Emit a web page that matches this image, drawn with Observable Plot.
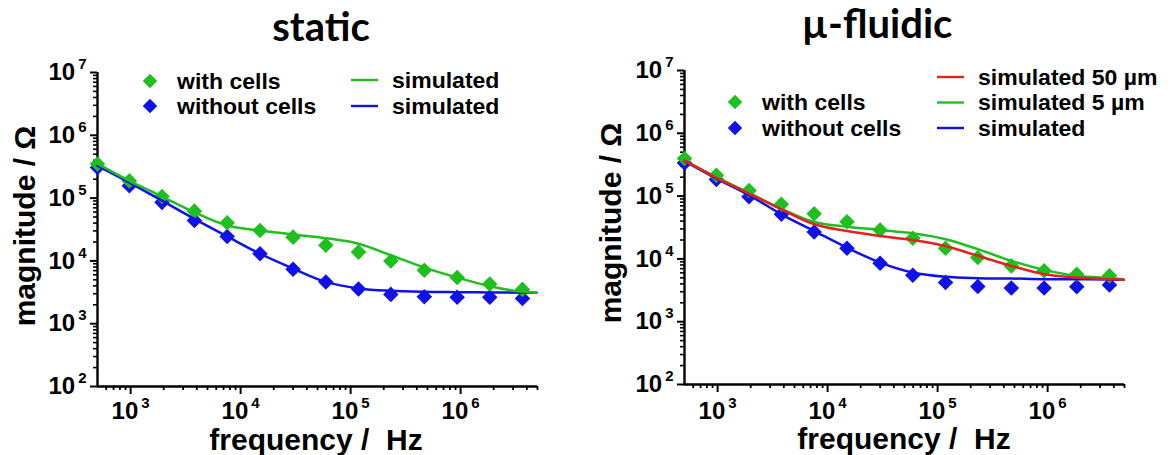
<!DOCTYPE html>
<html><head><meta charset="utf-8">
<script src="https://cdn.jsdelivr.net/npm/d3@7"></script>
<script src="https://cdn.jsdelivr.net/npm/@observablehq/plot@0.6"></script>
<style>
body{margin:0;background:#fff;}
#wrap{position:relative;width:1171px;height:455px;overflow:hidden;}
.panel{position:absolute;top:0;width:585px;height:455px;}
svg text{white-space:pre;}
</style></head><body>
<div id="wrap"><div id="p1" class="panel" style="left:0"></div><div id="p2" class="panel" style="left:586px"></div></div>
<script>
// ---- data ----
const freq = [500, 975, 1930, 3800, 7550, 15000, 30000, 59500, 118000, 232000, 468000, 930000, 1840000, 3650000];
const simFreq = [500, 975, 1930, 3800, 7550, 15000, 30000, 59500, 118000, 232000, 468000, 930000, 1840000, 3650000, 4900000];

// static panel
const staticWithCells    = [350000, 188000, 106000, 62000, 40400, 30500, 23900, 17700, 13800, 9960, 7100, 5440, 4270, 3520];
const staticWithoutCells = [306000, 157000, 85500, 43900, 24500, 13000, 7360, 4630, 3560, 2930, 2680, 2630, 2630, 2530];
const staticSimWith      = [354000, 188000, 106000, 59400, 36600, 30500, 26400, 23000, 18800, 12300, 7830, 5440, 3960, 3220, 3100];
const staticSimWithout   = [326000, 177000, 91000, 46700, 24500, 13000, 7550, 4630, 3650, 3340, 3220, 3180, 3150, 3120, 3100];

// µ-fluidic panel
const fluidicWithCells    = [397000, 215000, 123000, 73900, 52400, 39100, 28900, 21300, 14800, 10500, 7740, 6450, 5710, 5370];
const fluidicWithoutCells = [338000, 184000, 97500, 51300, 26800, 14800, 8550, 5510, 4210, 3630, 3430, 3430, 3600, 3830];
const fluidicSim50   = [370000, 195000, 110000, 61500, 35600, 27800, 23200, 20000, 16100, 11200, 7740, 5710, 5050, 4760, 4640];
const fluidicSim5    = [370000, 200000, 113000, 62900, 38700, 32600, 28900, 25600, 20600, 14300, 9300, 6690, 5370, 4940, 4760];
const fluidicSimNo   = [360000, 190000, 104000, 51300, 27800, 15100, 8740, 6070, 5180, 4940, 4870, 4760, 4760, 4710, 4640];

const xDomain = [500, 5000000];
const yDomain = [100, 10000000];
const xMajor = [1e3, 1e4, 1e5, 1e6];
const yMajor = [1e2, 1e3, 1e4, 1e5, 1e6, 1e7];

const GREEN = "#1fbf1f", BLUE = "#1010e8", RED = "#e3221c";
const FONT = "'Liberation Sans', Arial, sans-serif";

function minor(domain) {
  const out = [];
  for (let e = Math.floor(Math.log10(domain[0])); e < Math.log10(domain[1]); e++)
    for (let m = 2; m < 10; m++) { const v = m * 10 ** e; if (v > domain[0] && v <= domain[1]) out.push(v); }
  return out;
}
const rows = (fs, vs, s) => vs.map((v, i) => ({f: fs[i], v, s}));
const expFmt = d => String(Math.round(Math.log10(d)));

function stretch(node, k) {
  const len = node.getComputedTextLength();
  node.setAttribute("textLength", (len * k).toFixed(1));
  node.setAttribute("lengthAdjust", "spacingAndGlyphs");
}

function panel(el, cfg) {
  const chart = Plot.plot({
    width: 585, height: 455,
    marginLeft: cfg.ml, marginRight: cfg.mr, marginTop: cfg.mt, marginBottom: cfg.mb,
    style: {fontFamily: FONT, fontWeight: "bold", color: "#000", background: "transparent", overflow: "visible"},
    x: {type: "log", domain: xDomain},
    y: {type: "log", domain: yDomain},
    marks: [
      Plot.axisX(minor(xDomain), {tickSize: 4, strokeWidth: 1.8, tickFormat: () => "", label: null}),
      Plot.axisX(xMajor, {tickSize: 8, strokeWidth: 2, tickPadding: cfg.xPad, fontSize: 24, tickFormat: expFmt, label: null}),
      Plot.axisY(minor(yDomain), {tickSize: 4, strokeWidth: 1.6, tickFormat: () => "", label: null}),
      Plot.axisY(yMajor, {tickSize: 7, strokeWidth: 2, tickPadding: 4, fontSize: 24, tickFormat: expFmt, label: null}),
      Plot.ruleX([xDomain[0]], {stroke: "#000", strokeWidth: 2.4}),
      Plot.ruleY([yDomain[0]], {stroke: "#000", strokeWidth: 2.4}),
      ...cfg.dots.map(d => Plot.dot(rows(freq, d.values, d.name), {x: "f", y: "v", symbol: "diamond2", r: 7, fill: d.color, stroke: null})),
      ...cfg.lines.map(l => Plot.line(rows(simFreq, l.values, l.name), {x: "f", y: "v", stroke: l.color, strokeWidth: 2.5, curve: "catmull-rom"}))
    ]
  });
  el.appendChild(chart);
  const svg = d3.select(chart);
  // superscript exponents on tick labels
  svg.selectAll('g[aria-label="x-axis tick label"] text, g[aria-label="y-axis tick label"] text').each(function () {
    const t = this.textContent;
    if (!t) return;
    const s = d3.select(this);
    s.text(null);
    s.append("tspan").text("10");
    s.append("tspan").attr("dx", 3).attr("dy", -11).attr("font-size", 15).text(t);
  });
  // axis titles
  svg.append("text").attr("x", cfg.xLabel.x).attr("y", cfg.xLabel.y).attr("text-anchor", "middle")
    .attr("font-family", FONT).attr("font-weight", "bold").attr("font-size", 30).attr("fill", "#000")
    .text("frequency /  Hz");
  svg.append("text").attr("transform", `translate(${cfg.yLabel.x},${cfg.yLabel.y}) rotate(-90)`).attr("text-anchor", "middle")
    .attr("font-family", FONT).attr("font-weight", "bold").attr("font-size", 30).attr("fill", "#000")
    .text("magnitude / Ω");
  // title
  svg.append("text").attr("x", cfg.title.x).attr("y", cfg.title.y).attr("text-anchor", "middle")
    .attr("font-family", "Lato, 'Open Sans', sans-serif").attr("font-weight", 700).attr("font-size", 40)
    .attr("fill", "#000").text(cfg.title.text);
  // legend
  const lg = svg.append("g").attr("font-family", FONT).attr("font-weight", "bold").attr("font-size", 21.5)
    .attr("fill", "#000").attr("text-anchor", "start");
  cfg.legendDots.forEach(d => {
    lg.append("path").attr("transform", `translate(${d.x},${d.y})`)
      .attr("d", d3.symbol(d3.symbolDiamond2, Math.PI * 6.5 * 6.5)()).attr("fill", d.color);
    lg.append("text").attr("x", d.x + 27).attr("y", d.y + 7.5).attr("text-anchor", "start").text(d.label);
  });
  cfg.legendLines.forEach(d => {
    lg.append("line").attr("x1", d.x).attr("x2", d.x + 27).attr("y1", d.y).attr("y2", d.y)
      .attr("stroke", d.color).attr("stroke-width", 2.4);
    lg.append("text").attr("x", d.x + 41).attr("y", d.y + 7.5).attr("text-anchor", "start").text(d.label);
  });
  lg.selectAll("text").each(function () { stretch(this, 1.07); });
}

panel(document.getElementById("p1"), {
  ml: 97, mr: 48, mt: 72, mb: 69, xPad: 7,
  xLabel: {x: 316, y: 450}, yLabel: {x: 35, y: 226},
  title: {text: "static", x: 321, y: 41},
  dots: [
    {name: "without cells", values: staticWithoutCells, color: BLUE},
    {name: "with cells", values: staticWithCells, color: GREEN}
  ],
  lines: [
    {name: "simulated without", values: staticSimWithout, color: BLUE},
    {name: "simulated with", values: staticSimWith, color: GREEN}
  ],
  legendDots: [
    {x: 150, y: 81, color: GREEN, label: "with cells"},
    {x: 150, y: 106, color: BLUE, label: "without cells"}
  ],
  legendLines: [
    {x: 351, y: 80, color: GREEN, label: "simulated"},
    {x: 351, y: 106, color: BLUE, label: "simulated"}
  ]
});

panel(document.getElementById("p2"), {
  ml: 98, mr: 47, mt: 70, mb: 71, xPad: 9,
  xLabel: {x: 318, y: 449}, yLabel: {x: 35, y: 223},
  title: {text: "µ-fluidic", x: 291, y: 38},
  dots: [
    {name: "without cells", values: fluidicWithoutCells, color: BLUE},
    {name: "with cells", values: fluidicWithCells, color: GREEN}
  ],
  lines: [
    {name: "simulated", values: fluidicSimNo, color: BLUE},
    {name: "simulated 5 µm", values: fluidicSim5, color: GREEN},
    {name: "simulated 50 µm", values: fluidicSim50, color: RED}
  ],
  legendDots: [
    {x: 149, y: 102, color: GREEN, label: "with cells"},
    {x: 149, y: 128, color: BLUE, label: "without cells"}
  ],
  legendLines: [
    {x: 351, y: 77, color: RED, label: "simulated 50 µm"},
    {x: 351, y: 102.5, color: GREEN, label: "simulated 5 µm"},
    {x: 351, y: 128, color: BLUE, label: "simulated"}
  ]
});
</script></body></html>
